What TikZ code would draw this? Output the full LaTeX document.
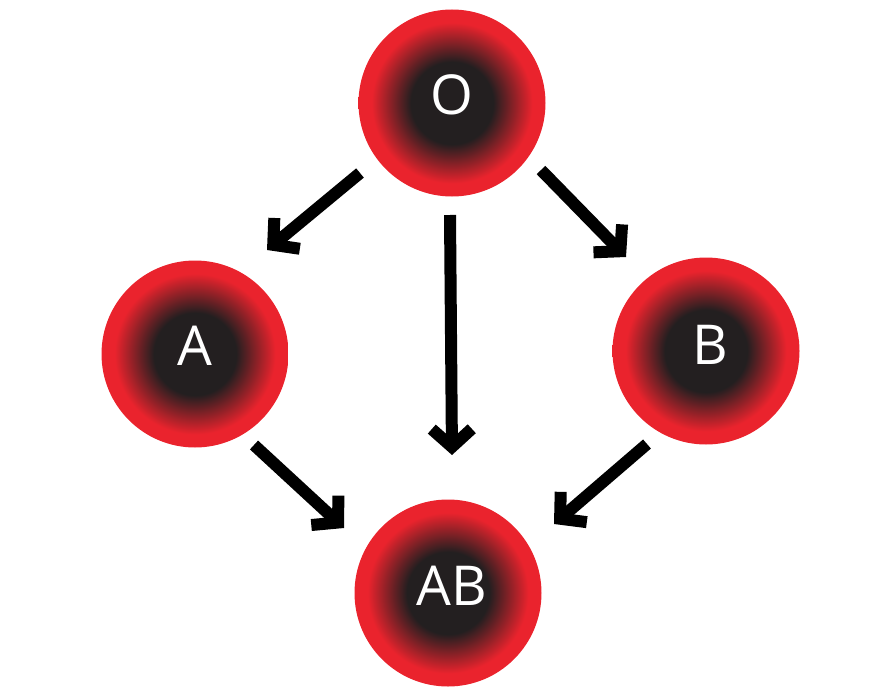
\documentclass[tikz,border=0pt]{standalone}
\usepackage{fontspec}
\setmainfont{Open Sans}
\usetikzlibrary{arrows.meta}
\definecolor{cdark}{HTML}{231F20}
\definecolor{cred}{HTML}{EA232D}
\pgfdeclareradialshading{cellshade}{\pgfpoint{0bp}{0bp}}{color(0bp)=(cdark); color(11bp)=(cdark); color(21.5bp)=(cred); color(50bp)=(cred)}
\tikzset{
  cell/.style={circle, minimum size=187pt, inner sep=0pt, shading=cellshade},
  celltext/.style={text=white, inner sep=0pt, font=\fontsize{55}{60}\selectfont},
  link/.style={line width=12pt, -{Straight Barb[sharp,length=18pt,width=40pt]}}
}
\begin{document}
\begin{tikzpicture}[x=1pt,y=-1pt]
\useasboundingbox (0,0) rectangle (881,693);
\node[cell] (O) at (452,103) {};
\node[cell] (A) at (195,354) {};
\node[cell] (B) at (706,351) {};
\node[cell] (AB) at (448,593) {};
\node[celltext] (Ot) at ([yshift=8pt]452,103) {O};
\node[celltext] (At) at ([yshift=8pt]195,354) {A};
\node[celltext] (Bt) at ([yshift=6pt]710,351) {B};
\node[celltext] (ABt) at ([yshift=7pt]452,593) {AB};
\coordinate (oa1) at (360,173);
\coordinate (oa2) at (267,250);
\coordinate (oab1) at (450,215);
\coordinate (oab2) at (452,455);
\coordinate (ob1) at (541,170);
\coordinate (ob2) at (626,257);
\coordinate (aab1) at (254,445);
\coordinate (aab2) at (344,528);
\coordinate (bab1) at (647,444);
\coordinate (bab2) at (554,524);
\draw[link] (oa1) -- (oa2);
\draw[link] (oab1) -- (oab2);
\draw[link] (ob1) -- (ob2);
\draw[link] (aab1) -- (aab2);
\draw[link] (bab1) -- (bab2);
\end{tikzpicture}
\end{document}
